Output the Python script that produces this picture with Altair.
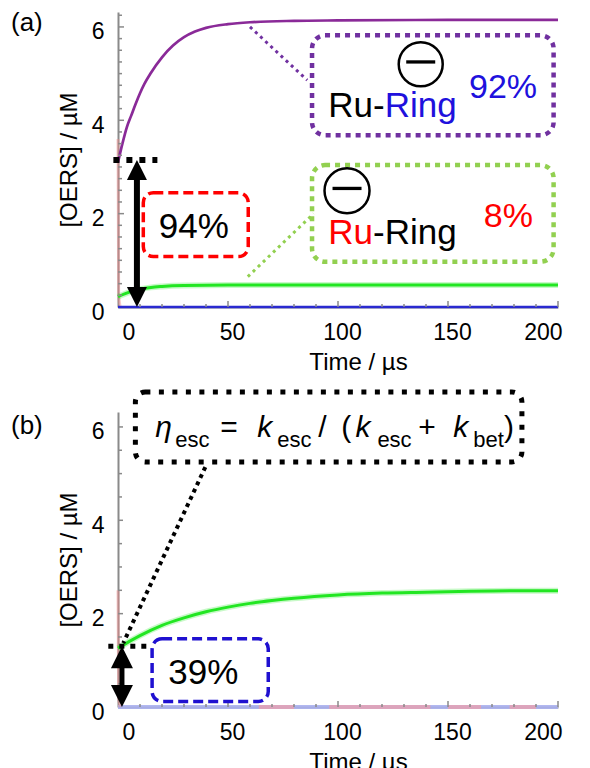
import altair as alt
import pandas as pd

# ---------------- data ----------------
# panel (a)
a_purple_t = [0, 2, 4, 6, 8, 10, 12, 15, 20, 25, 30, 35, 40, 50, 60, 80, 100, 150, 200]
a_purple_v = [3.10, 3.50, 3.85, 4.10, 4.35, 4.58, 4.78, 5.02, 5.35, 5.60, 5.78, 5.90, 5.98, 6.06, 6.10, 6.13, 6.14, 6.15, 6.15]
a_green_t = [0, 3, 6, 10, 15, 20, 30, 50, 100, 200]
a_green_v = [0.22, 0.28, 0.33, 0.38, 0.42, 0.44, 0.46, 0.47, 0.47, 0.47]
a_blue_t = [0, 200]
a_blue_v = [0.0, 0.0]
a_red_t = [0, 0.3, 1.0]
a_red_v = [3.6, 0.3, 0.0]
# panel (b)
b_green_t = [0, 5, 10, 20, 30, 40, 50, 60, 70, 80, 100, 120, 140, 160, 180, 200]
b_green_v = [1.26, 1.40, 1.53, 1.75, 1.91, 2.04, 2.14, 2.22, 2.28, 2.33, 2.40, 2.44, 2.46, 2.48, 2.49, 2.49]
b_blue_t = [0, 200]
b_blue_v = [0.0, 0.0]
b_red_t = [0, 0.3, 1.0]
b_red_v = [2.5, 0.2, 0.0]
b_red_base = [(64, 80), (96, 142), (150, 165), (178, 190)]

x_tick_labels = [0, 50, 100, 150, 200]
y_tick_labels = [0, 2, 4, 6]
x_minor = [10, 20, 30, 40, 60, 70, 80, 90, 110, 120, 130, 140, 160, 170, 180, 190]
x_major = [50, 100, 150, 200]
a_y_minor = [0.25, 0.5, 0.75, 1, 1.25, 1.5, 1.75, 2.25, 2.5, 2.75, 3, 3.25, 3.5, 3.75,
             4.25, 4.5, 4.75, 5, 5.25, 5.5, 5.75, 6.25]
b_y_minor = [0.5, 1, 1.5, 2.5, 3, 3.5, 4.5, 5, 5.5]
y_major = [2, 4, 6]

# ---------------- styling ----------------
W, H = 440, 295
FONT = "Liberation Sans"
GRAY = "#8a8a8a"

xs = alt.Scale(domain=[0, 200], nice=False, zero=False)
ys = alt.Scale(domain=[0, 6.32], nice=False, zero=False)
xaxis = alt.Axis(values=x_tick_labels, title="Time / µs", ticks=False, labelPadding=14,
                 labelOffset=4, labelFontSize=23, titleFontSize=24, titlePadding=6,
                 titleX=W / 2 + 20)
yaxis = alt.Axis(values=y_tick_labels, title="[OERS] / µM", ticks=False, labelPadding=14,
                 labelOffset=5, labelFontSize=23, titleFontSize=24, titlePadding=10)


def X(f="t"):
    return alt.X(f"{f}:Q", scale=xs, axis=xaxis)


def Y(f="v"):
    return alt.Y(f"{f}:Q", scale=ys, axis=yaxis)


def line(ts, vs, color, width, opacity=1.0):
    df = pd.DataFrame({"t": ts, "v": vs})
    return alt.Chart(df).mark_line(color=color, strokeWidth=width, opacity=opacity,
                                   interpolate="monotone").encode(x=X(), y=Y())


def seg(t1, v1, t2, v2, color, width, dash=None, opacity=1.0):
    df = pd.DataFrame({"t": [t1], "v": [v1], "t2": [t2], "v2": [v2]})
    kw = {"strokeDash": dash} if dash else {}
    return alt.Chart(df).mark_rule(color=color, strokeWidth=width, strokeCap="butt",
                                   opacity=opacity, **kw).encode(
        x=X(), y=Y(), x2="t2:Q", y2="v2:Q")


def box(t1, t2, v1, v2, color, width, dash, radius):
    df = pd.DataFrame({"t": [t1], "v": [v1], "t2": [t2], "v2": [v2]})
    return alt.Chart(df).mark_rect(fill="white", fillOpacity=0, stroke=color, strokeWidth=width,
                                   strokeDash=dash, cornerRadius=radius).encode(
        x=X(), y=Y(), x2="t2:Q", y2="v2:Q")


def text(t, v, s, color="black", size=34, align="left", style="normal", dx=0):
    df = pd.DataFrame({"t": [t], "v": [v], "s": [s]})
    return alt.Chart(df).mark_text(color=color, fontSize=size, font=FONT, align=align,
                                   baseline="alphabetic", fontStyle=style, dx=dx).encode(
        x=X(), y=Y(), text="s:N")


def symbol(t, v, shape, size, width, color="black", filled=False):
    df = pd.DataFrame({"t": [t], "v": [v]})
    if filled:
        mk = alt.Chart(df).mark_point(shape=shape, size=size, filled=True, fill=color,
                                      strokeWidth=0, opacity=1)
    else:
        mk = alt.Chart(df).mark_point(shape=shape, size=size, filled=False, stroke=color,
                                      strokeWidth=width, opacity=1)
    return mk.encode(x=X(), y=Y())


def ominus(t, v, d):
    return [symbol(t, v, "circle", d * d, 2.5),
            symbol(t, v + 0.05, "M-1,0L1,0", 29 * 29, 3.3)]


def arrow(t, v_top, v_bot, head, shaft, span):
    df = pd.DataFrame({"t": [t], "v": [v_top - span], "v2": [v_bot + span]})
    r = alt.Chart(df).mark_rule(color="black", strokeWidth=shaft, strokeCap="butt").encode(
        x=X(), y=Y(), y2="v2:Q")
    return [r,
            symbol(t, v_top, "M0,0L1,2L-1,2Z", head * head, 0, filled=True),
            symbol(t, v_bot, "M0,0L1,-2L-1,-2Z", head * head, 0, filled=True)]


def xticks(vals, length):
    df = pd.DataFrame({"t": vals})
    return alt.Chart(df).mark_rule(color=GRAY, strokeWidth=1.5).encode(
        x=X(), y=alt.value(H), y2=alt.value(H - length))


def yticks(vals, length):
    df = pd.DataFrame({"v": vals})
    return alt.Chart(df).mark_rule(color=GRAY, strokeWidth=1.5).encode(
        y=Y(), x=alt.value(0), x2=alt.value(length))


def panel_label(s, y):
    df = pd.DataFrame({"s": [s]})
    return alt.Chart(df).mark_text(align="left", baseline="top", fontSize=26, font=FONT,
                                   color="black").encode(
        x=alt.value(-107), y=alt.value(y), text="s:N")


RS = 35  # font size of the species labels
# Arial/Liberation Sans advance widths (em): "Ru-" = 1.611, "Ru" = 1.278
# ---------------- panel (a) ----------------
a_layers = [
    line(a_red_t, a_red_v, "#f08a8a", 3, 0.45),
    line(a_green_t, a_green_v, "#22e622", 6, 0.25),
    line(a_green_t, a_green_v, "#22e622", 3),
    line(a_purple_t, a_purple_v, "#8a2a98", 2.7),
    line(a_blue_t, a_blue_v, "#2a2ad0", 2.5),
    xticks(x_minor, 3), xticks(x_major, 6),
    yticks(a_y_minor, 4), yticks(y_major, 6),
    # connectors
    seg(60, 6.0, 86, 4.86, "#7030a0", 3, [3, 4]),
    seg(59, 0.65, 88.9, 2.0, "#92d050", 3, [3, 4]),
    # boxes
    box(88.2, 198, 5.82, 3.68, "#7030a0", 4.5, [5, 5], 13),
    box(88.2, 198, 3.04, 0.97, "#92d050", 4.5, [5, 5], 13),
    box(11.5, 59.2, 2.45, 1.08, "#ff0000", 3.5, [10, 5], 10),
    # box texts
    text(95.6, 4.07, "Ru-", "black", RS, "left"),
    text(95.6, 4.07, "Ring", "#2010dd", RS, "left", dx=round(1.611 * RS, 1)),
    text(175.0, 4.48, "92%", "#2010dd", 34, "center"),
    text(95.6, 1.36, "Ru", "#ff0000", RS, "left"),
    text(95.6, 1.36, "-Ring", "black", RS, "left", dx=round(1.278 * RS, 1)),
    text(177.4, 1.72, "8%", "#ff0000", 34, "center"),
    text(34.5, 1.48, "94%", "black", 35, "center"),
    # black dotted level + arrow
    seg(-2.1, 3.15, 17.9, 3.15, "black", 6, [6, 7]),
    *arrow(8.6, 3.15, 0.0, 20, 6, 0.3),
    *ominus(137.6, 5.2, 44),
    *ominus(104.1, 2.49, 45),
    panel_label("(a)", -2),
]
panel_a = alt.layer(*a_layers).properties(width=W, height=H)

# ---------------- panel (b) ----------------
formula = [
    (16.95, 5.78, "η", 30, "italic"),
    (26.0, 5.57, "esc", 22, "normal"),
    (46.5, 5.78, "=", 30, "normal"),
    (63.3, 5.78, "k", 30, "italic"),
    (72.4, 5.57, "esc", 22, "normal"),
    (91.0, 5.78, "/", 30, "normal"),
    (101.5, 5.78, "(", 30, "normal"),
    (107.9, 5.78, "k", 30, "italic"),
    (117.9, 5.57, "esc", 22, "normal"),
    (136.5, 5.78, "+", 30, "normal"),
    (152.4, 5.78, "k", 30, "italic"),
    (161.5, 5.57, "bet", 22, "normal"),
    (175.4, 5.78, ")", 30, "normal"),
]

b_layers = [
    line(b_blue_t, b_blue_v, "#aab0ee", 4, 0.9),
    *[seg(t1, 0.0, t2, 0.0, "#e8a0b0", 4, None, 0.8) for (t1, t2) in b_red_base],
    line(b_red_t, b_red_v, "#f08a8a", 3, 0.45),
    line(b_green_t, b_green_v, "#22e622", 6, 0.25),
    line(b_green_t, b_green_v, "#22e622", 3),
    xticks(x_minor, 3), xticks(x_major, 6),
    yticks(b_y_minor, 4), yticks(y_major, 5),
    box(7.9, 183.6, 6.75, 5.25, "black", 5, [5, 8.5], 10),
    seg(39.7, 5.14, 2.4, 1.37, "black", 4, [4, 4]),
    box(15.5, 68.3, 1.46, 0.12, "#1f10d0", 3.5, [10, 5], 10),
    text(38.8, 0.5, "39%", "black", 35, "center"),
    seg(-4.4, 1.30, 14.7, 1.30, "black", 5, [5, 6]),
    *arrow(1.8, 1.30, 0.0, 22, 5, 0.3),
    *[text(t, v, s, "black", sz, "left", st) for (t, v, s, sz, st) in formula],
    panel_label("(b)", 1),
]
panel_b = alt.layer(*b_layers).properties(width=W, height=H)

chart = alt.vconcat(panel_a, panel_b, spacing=15).properties(
    padding={"left": 3, "top": 2, "right": 0, "bottom": 0},
    background="white",
).configure_view(stroke=None).configure_axis(
    domainColor=GRAY, domainWidth=2, grid=False, labelColor="black", titleColor="black",
    labelFont=FONT, titleFont=FONT, titleFontWeight="normal",
)

chart.save("out.html", embed_options={"renderer": "svg", "actions": False})
